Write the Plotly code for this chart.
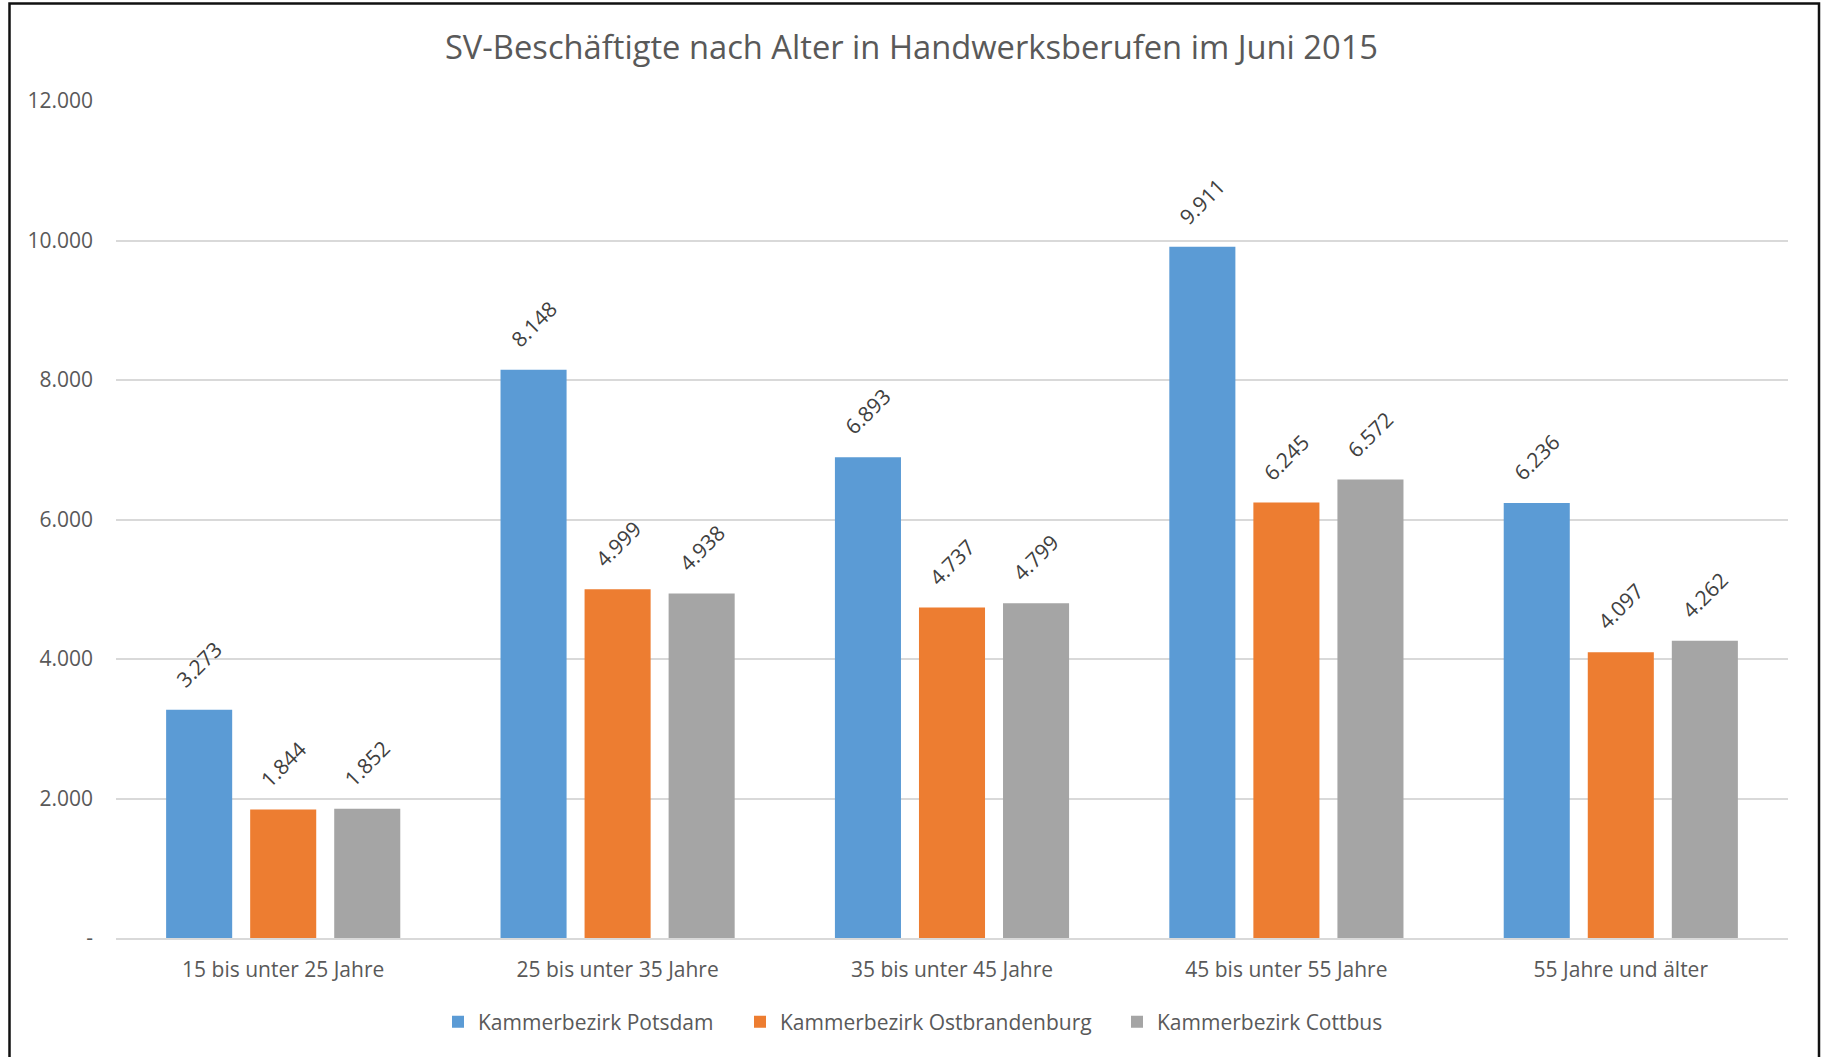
import plotly.graph_objects as go

categories = ["15 bis unter 25 Jahre", "25 bis unter 35 Jahre", "35 bis unter 45 Jahre",
              "45 bis unter 55 Jahre", "55 Jahre und älter"]
series_names = ["Kammerbezirk Potsdam", "Kammerbezirk Ostbrandenburg", "Kammerbezirk Cottbus"]
potsdam = [3273, 8148, 6893, 9911, 6236]
ostbrandenburg = [1844, 4999, 4737, 6245, 4097]
cottbus = [1852, 4938, 4799, 6572, 4262]
y_tickvals = [0, 2000, 4000, 6000, 8000, 10000, 12000]
y_ticktext = ["-", "2.000", "4.000", "6.000", "8.000", "10.000", "12.000"]
title_text = "SV-Beschäftigte nach Alter in Handwerksberufen im Juni 2015"

colors = ["#5B9BD5", "#ED7D31", "#A5A5A5"]
FONT = "Open Sans"

W, H = 1823, 1057
L, R, T, B = 116, 35, 101, 119
pw = W - L - R
ph = H - T - B
BARGAP = 0.246
BARGROUPGAP = 0.214

series_vals = [potsdam, ostbrandenburg, cottbus]
legend_ids = ["legend", "legend2", "legend3"]
legend_text_x = [478, 780, 1157]  # where legend text starts (px)

fig = go.Figure()
for name, vals, col, lid in zip(series_names, series_vals, colors, legend_ids):
    fig.add_trace(go.Bar(
        x=categories, y=vals, name=name, legend=lid,
        marker=dict(color=col, line=dict(width=0)),
    ))

# data labels, rotated -45°, centred over each bar
slot_px = pw / len(categories) * (1 - BARGAP) / len(series_names)
for i, vals in enumerate(series_vals):
    for cat, v in zip(categories, vals):
        fig.add_annotation(
            x=cat, y=v, xref="x", yref="y",
            text=f"{v:,}".replace(",", "."),
            showarrow=False, textangle=-45,
            xanchor="center", yanchor="bottom",
            xshift=(i - (len(series_names) - 1) / 2) * slot_px, yshift=14,
            font=dict(family=FONT, size=21, color="#404040"),
        )

legend_common = dict(orientation="h", xref="container", xanchor="left",
                     y=1 - 1022 / H, yref="container", yanchor="middle",
                     font=dict(family=FONT, size=21, color="#595959"),
                     itemwidth=30, bgcolor="rgba(0,0,0,0)")

fig.update_layout(
    width=W, height=H,
    margin=dict(l=L, r=R, t=T, b=B, autoexpand=False),
    paper_bgcolor="white", plot_bgcolor="white",
    separators=",.",
    font=dict(family=FONT, color="#595959", size=21),
    title=dict(text=title_text, x=0.5, xref="container", xanchor="center",
               y=1 - 48 / H, yref="container", yanchor="middle",
               font=dict(family=FONT, size=32.7, color="#595959")),
    barmode="group", bargap=BARGAP, bargroupgap=BARGROUPGAP,
    showlegend=True,
    legend=dict(x=(legend_text_x[0] - 40) / W, **legend_common),
    legend2=dict(x=(legend_text_x[1] - 40) / W, **legend_common),
    legend3=dict(x=(legend_text_x[2] - 40) / W, **legend_common),
    xaxis=dict(showgrid=False, showline=True, linecolor="#D9D9D9", linewidth=2,
               ticks="", tickfont=dict(family=FONT, size=21, color="#595959"),
               ticklabelstandoff=12),
    yaxis=dict(range=[0, 12000], tickvals=y_tickvals, ticktext=y_ticktext,
               showgrid=True, gridcolor="#D9D9D9", gridwidth=1.5, zeroline=False,
               showline=False, ticks="",
               tickfont=dict(family=FONT, size=21, color="#595959"),
               ticklabelstandoff=22),
)

# outer frame (chart border)
fig.add_shape(type="rect", xref="paper", yref="paper",
              x0=(9.5 - L) / pw, x1=(1819 - L) / pw,
              y0=(H - B - 1075) / ph, y1=(H - B - 3.5) / ph,
              line=dict(color="#111111", width=2.5), fillcolor="rgba(0,0,0,0)", layer="above")

fig.write_html("out.html", config={"displayModeBar": False},
               post_script="document.body.style.margin='0';document.body.style.overflow='hidden';")
